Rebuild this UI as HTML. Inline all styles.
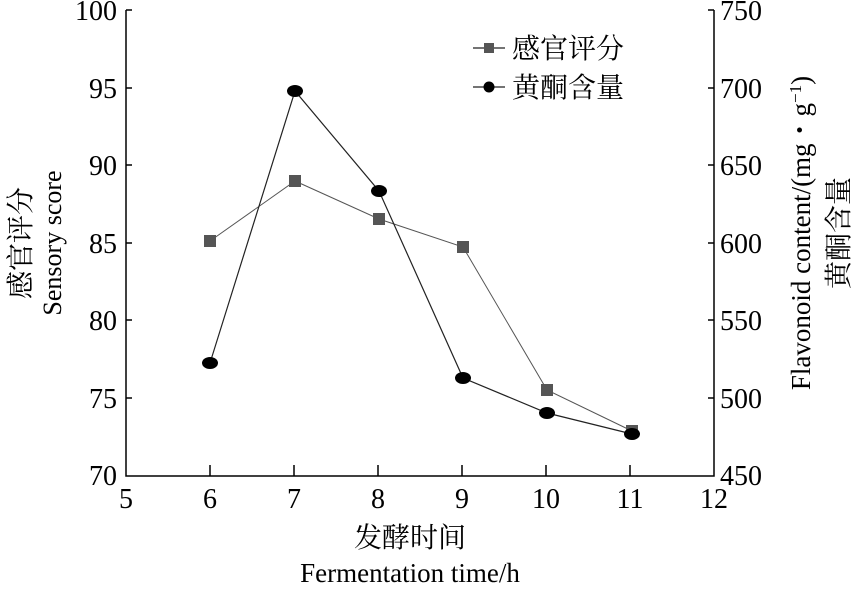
<!DOCTYPE html>
<html><head><meta charset="utf-8"><style>
body{margin:0;background:#fff}
svg text{font-family:"Liberation Serif","Noto Serif CJK SC",serif;fill:#000}
</style></head><body>
<svg width="859" height="585" viewBox="0 0 859 585" xmlns="http://www.w3.org/2000/svg">
<g stroke="#000" stroke-width="1.5" fill="none">
<path d="M126 10 V476 H714 V10"/>
<path d="M126 10 h6 M126 88 h6 M126 165 h6 M126 243 h6 M126 320 h6 M126 398 h6"/>
<path d="M714 10 h-6 M714 88 h-6 M714 165 h-6 M714 243 h-6 M714 320 h-6 M714 398 h-6"/>
<path d="M210 476 v-11 M294 476 v-11 M378 476 v-11 M462 476 v-11 M546 476 v-11 M630 476 v-11"/>
</g>
<g font-size="28" text-anchor="end">
<text x="117" y="20">100</text><text x="117" y="98">95</text><text x="117" y="175">90</text>
<text x="117" y="253">85</text><text x="117" y="330">80</text><text x="117" y="408">75</text><text x="117" y="485">70</text>
</g>
<g font-size="28" text-anchor="start">
<text x="720" y="20">750</text><text x="720" y="98">700</text><text x="720" y="175">650</text>
<text x="720" y="253">600</text><text x="720" y="330">550</text><text x="720" y="408">500</text><text x="720" y="485">450</text>
</g>
<g font-size="28" text-anchor="middle">
<text x="126" y="508">5</text><text x="210" y="508">6</text><text x="294" y="508">7</text><text x="378" y="508">8</text>
<text x="462" y="508">9</text><text x="546" y="508">10</text><text x="630" y="508">11</text><text x="714" y="508">12</text>
</g>
<text x="410" y="547" font-size="28" text-anchor="middle">发酵时间</text>
<text x="410" y="582" font-size="27" text-anchor="middle">Fermentation time/h</text>
<text transform="translate(30,243) rotate(-90)" font-size="28" text-anchor="middle">感官评分</text>
<text transform="translate(61,243) rotate(-90)" font-size="26" text-anchor="middle">Sensory score</text>
<text transform="translate(810,233) rotate(-90)" font-size="27" text-anchor="middle">Flavonoid content/(mg・g<tspan dy="-9" font-size="17">−1</tspan><tspan dy="9">)</tspan></text>
<text transform="translate(848,233) rotate(-90)" font-size="28" text-anchor="middle">黄酮含量</text>
<polyline points="210,241 295,181 379,219 463,247 547,390 632,431" fill="none" stroke="#555" stroke-width="1"/>
<g fill="#555">
<rect x="204" y="235" width="12" height="12"/><rect x="289" y="175" width="12" height="12"/><rect x="373" y="213" width="12" height="12"/>
<rect x="457" y="241" width="12" height="12"/><rect x="541" y="384" width="12" height="12"/><rect x="626" y="425" width="12" height="12"/>
</g>
<polyline points="210,363 295,91 379,191 463,378 547,413 632,434" fill="none" stroke="#222" stroke-width="1.2"/>
<g fill="#000">
<ellipse cx="210" cy="363" rx="8" ry="6"/><ellipse cx="295" cy="91" rx="8" ry="6"/><ellipse cx="379" cy="191" rx="8" ry="6"/>
<ellipse cx="463" cy="378" rx="8" ry="6"/><ellipse cx="547" cy="413" rx="8" ry="6"/><ellipse cx="632" cy="434" rx="8" ry="6"/>
</g>
<g stroke="#222" stroke-width="1.2"><path d="M473 48 h32 M473 87 h32"/></g>
<rect x="484" y="43" width="10" height="10" fill="#555"/>
<circle cx="489" cy="87" r="5.5" fill="#000"/>
<text x="512" y="58" font-size="28">感官评分</text>
<text x="512" y="97" font-size="28">黄酮含量</text>
</svg>
</body></html>
